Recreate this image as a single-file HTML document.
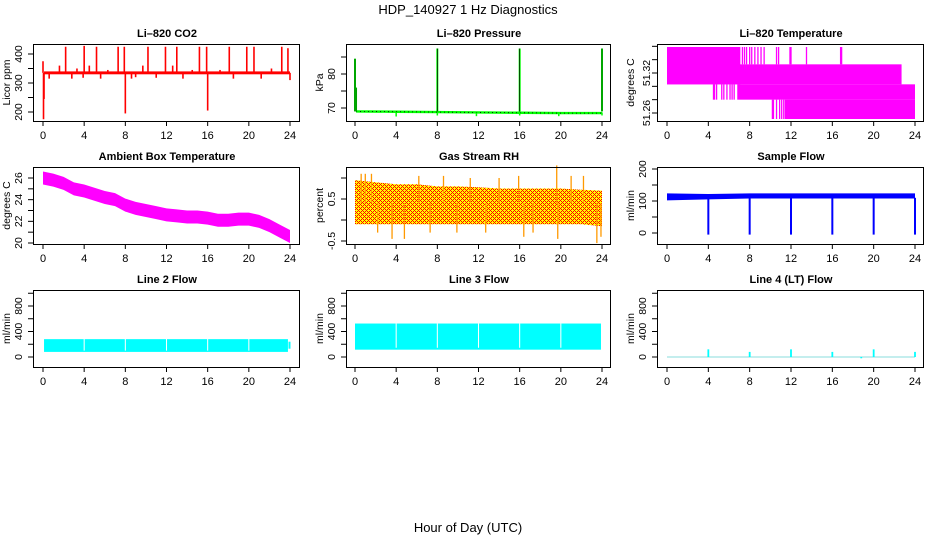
<!DOCTYPE html>
<html><head><meta charset="utf-8">
<style>
html,body{margin:0;padding:0;background:#fff;}
svg{display:block;font-family:"Liberation Sans",Arial,sans-serif;}
</style></head>
<body>
<svg id="chart" width="936" height="540" viewBox="0 0 936 540" xmlns="http://www.w3.org/2000/svg">
<defs>
<pattern id="rhpat" width="4" height="4" patternUnits="userSpaceOnUse">
<rect width="4" height="4" fill="#ffff00"/>
<rect x="0" y="0" width="1" height="1" fill="#ff0000"/>
<rect x="1" y="1" width="1" height="1" fill="#ff0000"/>
<rect x="2" y="2" width="1" height="1" fill="#ff0000"/>
<rect x="3" y="3" width="1" height="1" fill="#ff0000"/>
<rect x="1" y="3" width="1" height="1" fill="#ff0000"/>
<rect x="3" y="1" width="1" height="1" fill="#ff0000"/>
</pattern>
</defs>
<text x="468" y="14" text-anchor="middle" font-size="13">HDP_140927  1 Hz Diagnostics</text>
<text x="468" y="532" text-anchor="middle" font-size="13">Hour of Day (UTC)</text>
</svg>
<script>
// ---- data ----
const xTicks = [0,4,8,12,16,20,24];
// CO2
const co2BandLow = 330, co2BandHigh = 340, co2Base = 335;
const co2SpikeHours = [0.0,0.05,0.1,0.6,1.6,2.2,2.8,3.3,3.9,4.0,4.5,5.2,5.6,6.3,7.3,7.9,8.0,8.6,9.0,9.7,10.2,11.0,11.9,12.6,13.0,13.6,14.5,15.2,15.9,16.0,17.2,18.1,18.5,19.8,20.5,21.2,22.2,23.2,23.8,24.0];
const co2SpikeVals  = [375,175,245,315,360,425,315,350,318,428,360,425,315,345,425,425,195,315,320,360,425,318,425,360,425,315,345,425,425,205,345,425,315,425,425,315,350,425,420,310];
const co2Ticks = [200,250,300,350,400];
const co2Labels = [200,300,400];
// Pressure
const pressBaseHours = [0.1,4,8,12,16,20,24];
const pressBaseVals  = [69.0,68.9,68.8,68.7,68.6,68.5,68.5];
const pressSpikeHours = [0.0,0.1,8.0,16.0,24.0];
const pressSpikeVals  = [84.5,76,87.5,87.5,87.5];
const pressDipHours = [4.0,8.0,11.8,16.0,19.8,24.0];
const pressDipVals  = [67.5,67.8,67.6,67.8,67.6,67.8];
const pressTicks = [70,75,80,85];
const pressLabels = [70,80];
// Li-820 temperature
const tempBlockStart = [0,0,6.8,11.4];
const tempBlockEnd   = [7.1,22.7,24,24];
const tempBlockLow   = [51.303,51.303,51.280,51.251];
const tempBlockHigh  = [51.359,51.333,51.303,51.280];
const tempTopFlick = [7.3,7.5,7.7,8.0,8.2,8.5,8.8,9.1,9.4,10.6,10.8,11.9,12.0,13.5,16.8,16.9];
const tempMidFlick = [4.5,4.6,4.8,5.3,5.5,5.8,6.1,6.3,6.5];
const tempLowFlick = [10.2,10.3,10.6,10.9,11.1,11.3];
const tempTicks = [51.26,51.28,51.30,51.32,51.34,51.36];
const tempLabels = [51.26,51.32];
// Ambient box temperature
const ambHours = [0,1,2,3,4,5,6,7,8,9,10,11,12,13,14,15,16,17,18,19,20,21,22,23,24];
const ambVals  = [26.0,25.8,25.5,25.0,24.8,24.5,24.2,24.0,23.5,23.2,23.0,22.8,22.6,22.5,22.4,22.4,22.3,22.1,22.1,22.2,22.2,22.0,21.6,21.1,20.6];
const ambHalfWidth = 0.6;
const ambTicks = [20,21,22,23,24,25,26];
const ambLabels = [20,22,24,26];
// Gas stream RH
const rhHours  = [0,2,4,6,8,10,12,14,16,18,20,22,24];
const rhTop    = [0.95,0.9,0.85,0.85,0.8,0.8,0.78,0.75,0.75,0.75,0.75,0.72,0.7];
const rhBottom = [-0.1,-0.1,-0.1,-0.1,-0.1,-0.1,-0.1,-0.1,-0.1,-0.1,-0.1,-0.1,-0.15];
const rhSpikeHours = [0.6,1.0,1.6,2.2,3.6,4.8,6.2,7.3,8.6,9.9,11.2,12.7,14.0,15.9,16.4,17.3,19.6,19.7,21.0,22.2,23.5,23.9];
const rhSpikeVals  = [1.1,1.1,1.1,-0.3,-0.45,-0.45,1.05,-0.3,1.05,-0.3,1.0,-0.3,1.0,1.05,-0.4,-0.3,1.3,-0.45,1.05,1.05,-0.55,-0.4];
const rhTicks = [-0.5,0,0.5,1.0];
const rhLabels = ["-0.5","0.5"];
// Sample flow
const sfHours = [0,4,8,12,16,20,24];
const sfLow   = [102,105,108,108,108,108,108];
const sfHigh  = [124,122,124,124,124,124,124];
const sfDropHours = [4.0,8.0,12.0,16.0,20.0,24.0];
const sfDropVals  = [-5,-5,-5,-5,-5,-5];
const sfTicks = [0,50,100,150,200];
const sfLabels = [0,100,200];
// Line flows
const flowTicks = [0,200,400,600,800,1000];
const flowLabels = [0,400,800];
const gapHours = [4,8,12,16,20];
const line2Low = 80, line2High = 280;
const line3Low = 115, line3High = 525;
const line4SpikeHours = [4,8,12,16,18.8,20,24];
const line4SpikeVals  = [120,80,120,80,-20,120,80];

// ---- helpers ----
const NS = 'http://www.w3.org/2000/svg';
const svg = document.getElementById('chart');
function mk(tag, attrs, name, parent) {
  const e = document.createElementNS(NS, tag);
  for (const k in attrs) e.setAttribute(k, attrs[k]);
  
  
  (parent || svg).appendChild(e);
  return e;
}
function makePanel(p) {
  const g = mk('g', {}, p.name + '-panel');
  p.g = g;
  p.x = h => p.hx0 + h * (p.hx24 - p.hx0) / 24;
  p.y = v => p.py0 + (v - p.v0) * (p.py1 - p.py0) / (p.v1 - p.v0);
  const t = mk('text', {x: (p.bx0 + p.bx1) / 2, y: p.by0 - 7, 'text-anchor': 'middle', 'font-size': 11, 'font-weight': 'bold'}, p.name + '-title', g);
  t.textContent = p.title;
  mk('line', {x1: p.x(0), x2: p.x(24), y1: p.by1 + 0.5, y2: p.by1 + 0.5, stroke: '#000'}, p.name + '-x-axis', g);
  xTicks.forEach(h => {
    mk('line', {x1: p.x(h), x2: p.x(h), y1: p.by1, y2: p.by1 + 5, stroke: '#000'}, p.name + '-x-tick', g);
    const tl = mk('text', {x: p.x(h), y: p.by1 + 18, 'text-anchor': 'middle', 'font-size': 11}, p.name + '-x-tick-label', g);
    tl.textContent = h;
  });
  mk('line', {x1: p.bx0 - 0.5, x2: p.bx0 - 0.5, y1: p.y(p.yticks[0]), y2: p.y(p.yticks[p.yticks.length - 1]), stroke: '#000'}, p.name + '-y-axis', g);
  p.yticks.forEach(v => {
    mk('line', {x1: p.bx0 - 6, x2: p.bx0, y1: p.y(v), y2: p.y(v), stroke: '#000'}, p.name + '-y-tick', g);
  });
  p.ylabels.forEach(v => {
    const yy = p.y(parseFloat(v));
    const tl = mk('text', {x: 0, y: 0, 'text-anchor': 'middle', 'font-size': 10.5, transform: 'translate(' + (p.bx0 - p.labOff) + ',' + yy + ') rotate(-90)'}, p.name + '-y-tick-label', g);
    tl.textContent = v;
  });
  const yl = mk('text', {x: 0, y: 0, 'text-anchor': 'middle', 'font-size': 10.5, transform: 'translate(' + (p.bx0 - 24) + ',' + ((p.by0 + p.by1) / 2) + ') rotate(-90)'}, p.name + '-y-axis-title', g);
  yl.textContent = p.ylabel;
  return p;
}
function box(p) {
  mk('rect', {x: p.bx0 - 0.5, y: p.by0 + 0.5, width: p.bx1 - p.bx0, height: p.by1 - p.by0, fill: 'none', stroke: '#000'}, p.name + '-frame', p.g);
}
function vline(p, h, a, b, color, w, name) {
  mk('line', {x1: p.x(h), x2: p.x(h), y1: p.y(a), y2: p.y(b), stroke: color, 'stroke-width': w}, name, p.g);
}
function rectV(p, h0, h1, a, b, color, name) {
  const y0 = Math.min(p.y(a), p.y(b)), y1 = Math.max(p.y(a), p.y(b));
  mk('rect', {x: p.x(h0), y: y0, width: p.x(h1) - p.x(h0), height: y1 - y0, fill: color}, name, p.g);
}
function bandPoly(p, hours, hi, lo, fill, name) {
  let pts = hours.map((h, i) => p.x(h) + ',' + p.y(hi[i]));
  for (let i = hours.length - 1; i >= 0; i--) pts.push(p.x(hours[i]) + ',' + p.y(lo[i]));
  mk('polygon', {points: pts.join(' '), fill: fill}, name, p.g);
}

const C1 = {bx0: 34, bx1: 300, hx0: 43, hx24: 290};
const C2 = {bx0: 347, bx1: 611, hx0: 355, hx24: 602};
const C3 = {bx0: 658, bx1: 924, hx0: 667, hx24: 915};
const R1 = {by0: 44, by1: 121}, R2 = {by0: 167, by1: 244}, R3 = {by0: 290, by1: 367};

// CO2
const pCO2 = makePanel(Object.assign({name: 'co2', title: 'Li\u2013820 CO2', ylabel: 'Licor ppm', v0: 200, py0: 112, v1: 400, py1: 54, yticks: co2Ticks, ylabels: co2Labels, labOff: 12, xlabels: true}, C1, R1));
rectV(pCO2, 0.1, 24, co2BandLow, co2BandHigh, '#ff0000', 'co2-baseline');
co2SpikeHours.forEach((h, i) => vline(pCO2, h, co2Base, co2SpikeVals[i], '#ff0000', 1.6, 'co2-spike'));
box(pCO2);

// Pressure
const pP = makePanel(Object.assign({name: 'pressure', title: 'Li\u2013820 Pressure', ylabel: 'kPa', v0: 70, py0: 108, v1: 80, py1: 74, yticks: pressTicks, ylabels: pressLabels, labOff: 12, xlabels: true}, C2, R1));
mk('polyline', {points: pressBaseHours.map((h, i) => pP.x(h) + ',' + pP.y(pressBaseVals[i])).join(' '), fill: 'none', stroke: '#00ff00', 'stroke-width': 2.4}, 'pressure-line', pP.g);
mk('polyline', {points: pressBaseHours.map((h, i) => pP.x(h) + ',' + pP.y(pressBaseVals[i])).join(' '), fill: 'none', stroke: '#000', 'stroke-width': 0.8, 'stroke-dasharray': '1 3'}, 'pressure-line-dots', pP.g);
pressSpikeHours.forEach((h, i) => {
  vline(pP, h, pressBaseVals[0], pressSpikeVals[i], '#00ff00', 2, 'pressure-spike');
  vline(pP, h, pressBaseVals[0], pressSpikeVals[i], '#000', 0.7, 'pressure-spike-dots');
});
pressDipHours.forEach((h, i) => vline(pP, h, 68.7, pressDipVals[i], '#00ff00', 1.5, 'pressure-dip'));
box(pP);

// Li-820 temperature
const pT = makePanel(Object.assign({name: 'li820-temp', title: 'Li\u2013820 Temperature', ylabel: 'degrees C', v0: 51.26, py0: 113, v1: 51.32, py1: 73, yticks: tempTicks, ylabels: tempLabels, labOff: 8, xlabels: true}, C3, R1));
tempBlockStart.forEach((s, i) => rectV(pT, s, tempBlockEnd[i], tempBlockLow[i], tempBlockHigh[i], '#ff00ff', 'temp-block'));
tempTopFlick.forEach(h => vline(pT, h, 51.333, 51.359, '#ff00ff', 1.3, 'temp-flicker'));
tempMidFlick.forEach(h => vline(pT, h, 51.280, 51.303, '#ff00ff', 1.3, 'temp-flicker'));
tempLowFlick.forEach(h => vline(pT, h, 51.251, 51.280, '#ff00ff', 1.3, 'temp-flicker'));
box(pT);

// Ambient
const pA = makePanel(Object.assign({name: 'ambient-temp', title: 'Ambient Box Temperature', ylabel: 'degrees C', v0: 20, py0: 243, v1: 26, py1: 178, yticks: ambTicks, ylabels: ambLabels, labOff: 12, xlabels: true}, C1, R2));
bandPoly(pA, ambHours, ambVals.map(v => v + ambHalfWidth), ambVals.map(v => v - ambHalfWidth), '#ff00ff', 'ambient-band');
box(pA);

// RH
const pR = makePanel(Object.assign({name: 'rh', title: 'Gas Stream RH', ylabel: 'percent', v0: 0.5, py0: 199, v1: -0.5, py1: 241, yticks: rhTicks, ylabels: rhLabels, labOff: 12, xlabels: true}, C2, R2));
bandPoly(pR, rhHours, rhTop, rhBottom, 'url(#rhpat)', 'rh-band');
rhSpikeHours.forEach((h, i) => vline(pR, h, 0.4, rhSpikeVals[i], '#ff9900', 1.3, 'rh-spike'));
box(pR);

// Sample flow
const pS = makePanel(Object.assign({name: 'sample-flow', title: 'Sample Flow', ylabel: 'ml/min', v0: 0, py0: 233, v1: 200, py1: 169, yticks: sfTicks, ylabels: sfLabels, labOff: 12, xlabels: true}, C3, R2));
bandPoly(pS, sfHours, sfHigh, sfLow, '#0000ff', 'sample-flow-band');
sfDropHours.forEach((h, i) => vline(pS, h, 110, sfDropVals[i], '#0000ff', 2, 'sample-flow-drop'));
box(pS);

// Line 2
const p2 = makePanel(Object.assign({name: 'line2-flow', title: 'Line 2 Flow', ylabel: 'ml/min', v0: 0, py0: 357, v1: 800, py1: 306, yticks: flowTicks, ylabels: flowLabels, labOff: 12, xlabels: true}, C1, R3));
rectV(p2, 0.1, 23.8, line2Low, line2High, '#00ffff', 'line2-band');
gapHours.forEach(h => rectV(p2, h - 0.05, h + 0.05, line2Low + 20, line2High + 5, '#ffffff', 'line2-gap'));
vline(p2, 23.95, 130, 240, '#00ffff', 2, 'line2-end');
box(p2);

// Line 3
const p3 = makePanel(Object.assign({name: 'line3-flow', title: 'Line 3 Flow', ylabel: 'ml/min', v0: 0, py0: 357, v1: 800, py1: 306, yticks: flowTicks, ylabels: flowLabels, labOff: 12, xlabels: true}, C2, R3));
rectV(p3, 0, 23.9, line3Low, line3High, '#00ffff', 'line3-band');
gapHours.forEach(h => rectV(p3, h - 0.05, h + 0.05, line3Low + 30, line3High, '#ffffff', 'line3-gap'));
box(p3);

// Line 4
const p4 = makePanel(Object.assign({name: 'line4-flow', title: 'Line 4 (LT) Flow', ylabel: 'ml/min', v0: 0, py0: 357, v1: 800, py1: 306, yticks: flowTicks, ylabels: flowLabels, labOff: 12, xlabels: true}, C3, R3));
mk('line', {x1: p4.x(0), x2: p4.x(24), y1: p4.y(0), y2: p4.y(0), stroke: '#88dddd', 'stroke-width': 1}, 'line4-baseline', p4.g);
line4SpikeHours.forEach((h, i) => vline(p4, h, 0, line4SpikeVals[i], '#00ffff', 1.8, 'line4-spike'));
box(p4);
</script>
</body></html>
